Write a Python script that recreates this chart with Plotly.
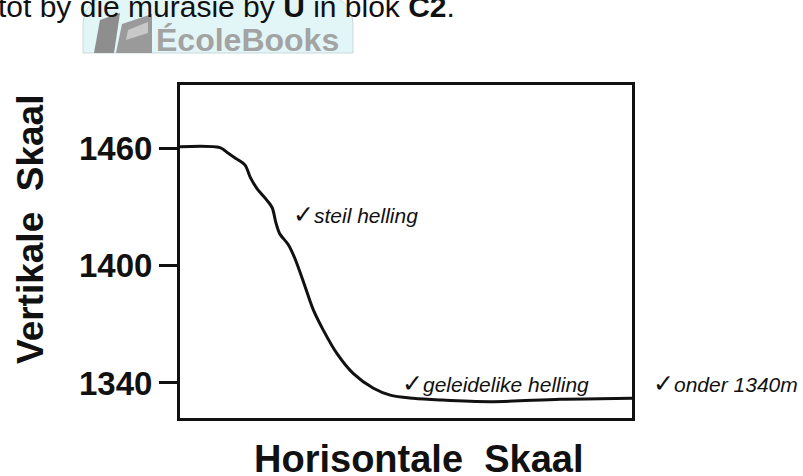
import plotly.graph_objects as go

# ---- data (horizontal distance in arbitrary units 0-100, elevation in m) ----
dist = [0, 8.85, 10.7, 12.9, 14.4, 15.5, 17.0, 19.2, 20.4, 21.2, 22.0, 24.0, 25.4,
        27.3, 29.5, 31.7, 34.7, 38.3, 42.8, 46.5, 51.6, 57.5, 68.6, 84.1, 92.9, 100]
elev = [1460.7, 1460.2, 1457.3, 1453.9, 1451.3, 1445.3, 1439.4, 1433.4, 1429.5,
        1422.0, 1416.5, 1410.5, 1403.7, 1391.7, 1377.3, 1367.0, 1355.1, 1344.9,
        1337.3, 1333.8, 1332.2, 1331.3, 1330.4, 1331.7, 1331.9, 1332.2]
ytick_vals = [1340, 1400, 1460]
ytick_text = ["1340", "1400", "1460"]

W, H = 803, 476
L, R, T, B = 180, 632, 85, 418


def xp(px):
    return (px - L) / (R - L)


def yp(py):
    return (B - py) / (B - T)


fig = go.Figure()
fig.add_trace(go.Scatter(x=dist, y=elev, mode="lines",
                         line=dict(color="#111111", width=3, shape="spline", smoothing=0.9),
                         hoverinfo="skip", showlegend=False))

fig.update_layout(
    width=W, height=H,
    margin=dict(l=L, r=W - R, t=T, b=H - B),
    paper_bgcolor="white", plot_bgcolor="white",
    font=dict(family="Liberation Sans, Arial, sans-serif", color="#111111"),
)
fig.update_xaxes(range=[0, 100], showgrid=False, zeroline=False, showticklabels=False,
                 ticks="", showline=True, mirror=True, linecolor="#111111", linewidth=3)
fig.update_yaxes(range=[1322.1, 1492.2], showgrid=False, zeroline=False,
                 tickvals=ytick_vals, ticktext=ytick_text, ticks="outside", ticklen=18,
                 tickwidth=3, tickcolor="#111111", ticklabelstandoff=0,
                 tickfont=dict(size=33, weight="bold", color="#111111"),
                 showline=True, mirror=True, linecolor="#111111", linewidth=3)

# ---- watermark pill and books (decoration) ----
def pth(points):
    s = "M {:.4f},{:.4f}".format(xp(points[0][0]), yp(points[0][1]))
    for p in points[1:]:
        s += " L {:.4f},{:.4f}".format(xp(p[0]), yp(p[1]))
    return s + " Z"

pill = ("M {a},{b} L {c},{b} C {d},{b} {e},{f} {e},{g} L {e},{h} L {i},{h} L {i},{g} "
        "C {i},{f} {j},{b} {k},{b} Z").format(
    a=xp(113), b=yp(-4), c=xp(323), d=xp(345), e=xp(353), f=yp(10), g=yp(26),
    h=yp(53), i=xp(83), j=xp(92), k=xp(113))
fig.add_shape(type="path", path=pill, xref="paper", yref="paper",
              fillcolor="#e2f6f7", line=dict(color="#c9d9da", width=1))
fig.add_shape(type="path", path=pth([(94, 53), (100, 20), (120, 13), (114, 53)]),
              xref="paper", yref="paper", fillcolor="#8e8e8e", line=dict(width=0))
fig.add_shape(type="path", path=pth([(116, 53), (122, 24), (152, 14), (152, 53)]),
              xref="paper", yref="paper", fillcolor="#9a9a9a", line=dict(width=0))
fig.add_shape(type="path", path=pth([(126, 40), (128, 30), (148, 22), (148, 33)]),
              xref="paper", yref="paper", fillcolor="#c8c8c8", line=dict(width=0))

def note(text, px, py, size, xanchor="left", **kw):
    fig.add_annotation(text=text, x=xp(px), y=yp(py), xref="paper", yref="paper",
                       showarrow=False, xanchor=xanchor, yanchor="middle",
                       font=dict(size=size, **kw))

note("ÉcoleBooks", 154, 40, 32, color="#a3a3a3", weight="bold")
note("tot by die murasie by <b>U</b> in blok <b>C2</b>.", -4, 7, 30, color="#111111")

# axis titles
fig.add_annotation(text="<b>Vertikale\u00a0 Skaal</b>", x=xp(31), y=yp(230), xref="paper",
                   yref="paper", showarrow=False, textangle=-90, xanchor="center",
                   yanchor="middle", font=dict(size=37, color="#111111"))
fig.add_annotation(text="<b>Horisontale\u00a0 Skaal</b>", x=xp(418), y=yp(459), xref="paper",
                   yref="paper", showarrow=False, xanchor="center", yanchor="middle",
                   font=dict(size=38, color="#111111"))

# slope notes
CK = "<span style='font-size:25px'>✓</span>"
note(CK + "<i>steil helling</i>", 291, 214, 21)
note(CK + "<i>geleidelike helling</i>", 400, 383, 21)
note(CK + "<i>onder 1340m</i>", 651, 383, 21)

fig.write_html("out.html", config={"displayModeBar": False},
               post_script="document.body.style.margin='0';")
